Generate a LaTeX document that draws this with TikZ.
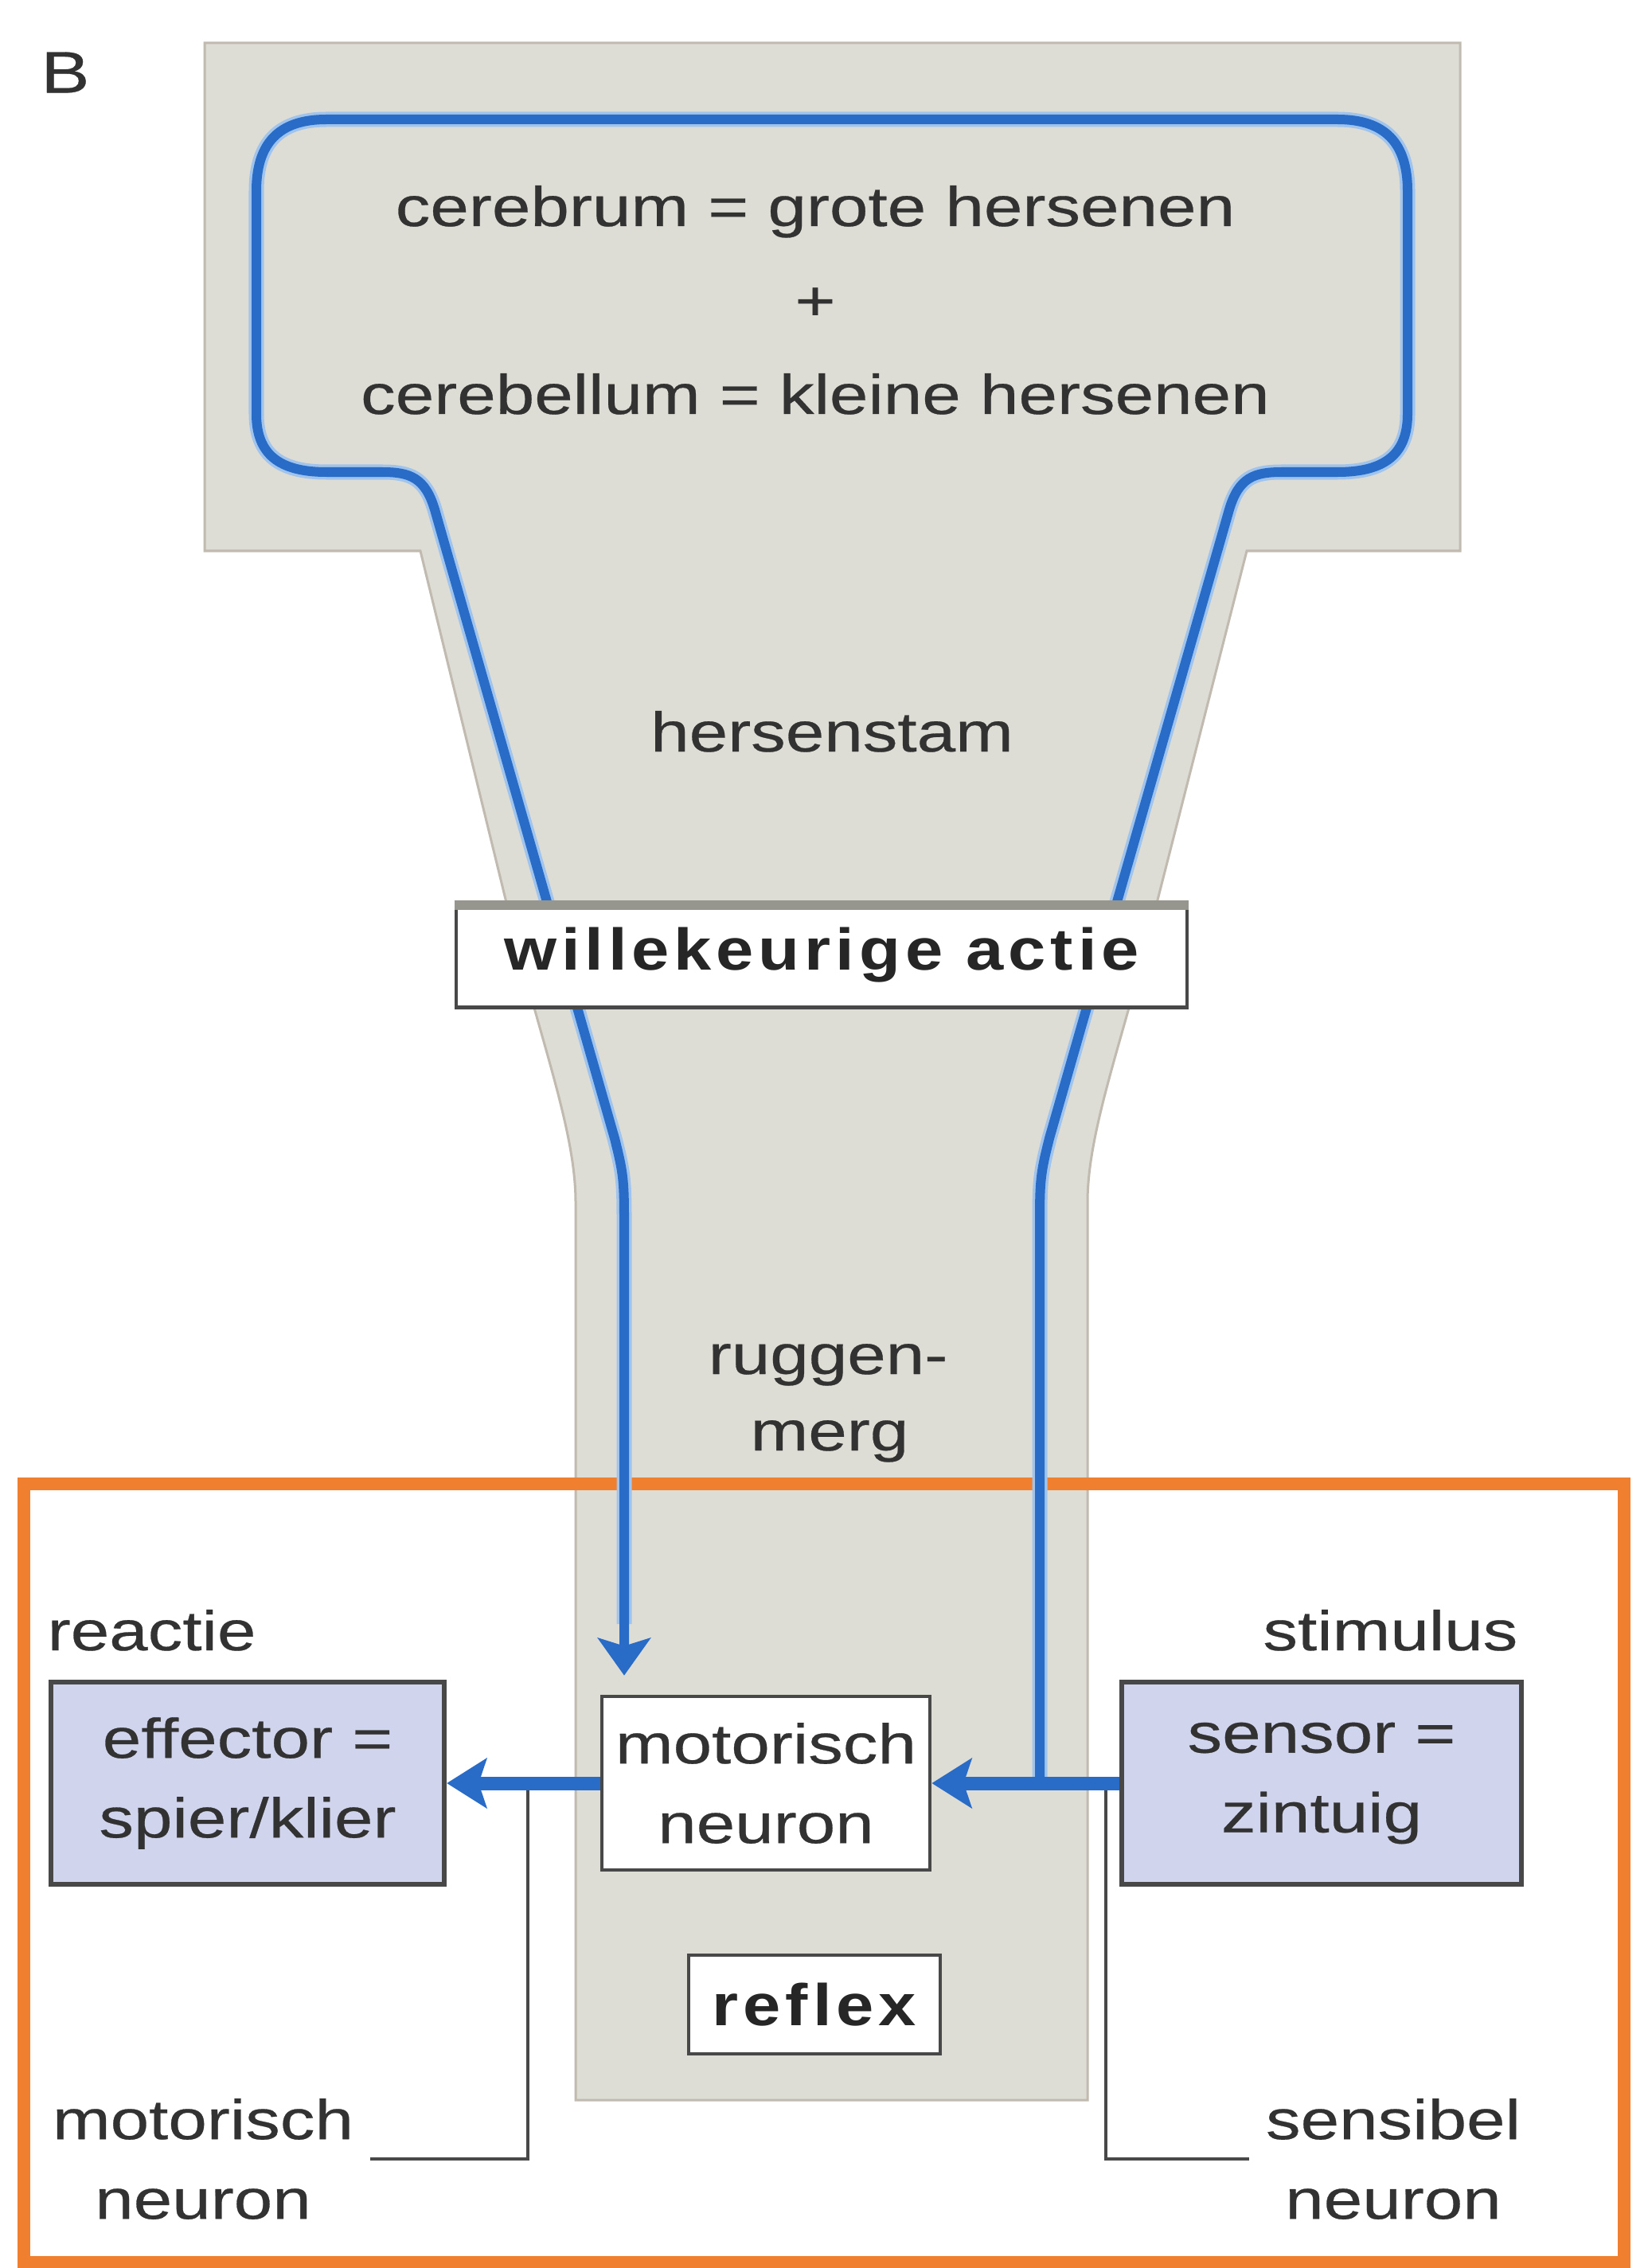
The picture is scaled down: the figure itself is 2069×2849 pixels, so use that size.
\documentclass[tikz,border=0pt]{standalone}
\usepackage{fontspec}
\setmainfont{Liberation Sans}[FakeStretch=1.24,FakeBold=0.4]
\newfontfamily\boldsp{Liberation Sans Bold}[FakeStretch=1.15,LetterSpace=8]
\usetikzlibrary{arrows.meta}
\definecolor{brgray}{RGB}{222,221,213}
\definecolor{brline}{RGB}{192,186,176}
\definecolor{nblue}{RGB}{40,108,200}
\definecolor{halo}{RGB}{160,196,236}
\definecolor{oranje}{RGB}{240,128,48}
\definecolor{lav}{RGB}{208,212,236}
\definecolor{txt}{RGB}{50,50,50}
\definecolor{bord}{RGB}{72,72,72}
\definecolor{bandg}{RGB}{150,150,142}
\tikzset{
 lbl/.style={font=\fontsize{20}{28.45}\selectfont, text=txt, inner sep=0pt},
 bld/.style={font=\fontsize{21}{28}\selectfont\boldsp, text=black!85},
 bluel/.style={draw=nblue, line width=0.12cm, line join=round},
 haloline/.style={draw=halo, line width=0.19cm, line join=round},
 harrow/.style={draw=nblue, line width=0.17cm, -{Stealth[length=0.5cm,width=0.62cm,inset=0.1cm]}},
 lavbox/.style={lbl, draw=bord, fill=lav, line width=0.06cm, align=center},
 whitebox/.style={lbl, draw=bord, fill=white, line width=0.045cm, align=center},
 callout/.style={draw=bord, line width=0.04cm},
}
\begin{document}
\begin{tikzpicture}[x=0.01cm,y=-0.01cm]
\useasboundingbox (0,0) rectangle (2069,2849);
\fill[white] (0,0) rectangle (2069,2849);
% brain + stem shape
\path[fill=brgray, draw=brline, line width=0.03cm]
  (257,54) -- (1834,54) -- (1834,692) -- (1566,692) -- (1449,1150)
  .. controls (1411,1305) and (1366,1420) .. (1366,1510) -- (1366,2638)
  -- (723,2638) -- (723,1510) .. controls (723,1420) and (678,1305) .. (640,1150)
  -- (528,692) -- (257,692) -- cycle;
% orange frame
\draw[oranje, line width=0.16cm] (30,1864) rectangle (2040,2842);
% boxes
\node[whitebox, minimum width=4.12cm, minimum height=2.18cm] (mn) at (962,2240) {motorisch\\neuron};
\node[lavbox, minimum width=4.94cm, minimum height=2.54cm] (ef) at (311,2240) {effector =\\spier/klier};
\node[lavbox, minimum width=5.02cm, minimum height=2.54cm] (sn) at (1660,2240) {sensor =\\zintuig};
\node[whitebox, bld, minimum width=3.16cm, minimum height=1.24cm] (rf) at (1023,2518) {reflex};
\coordinate (lx) at (784,0);
% blue loop
\path[haloline] (1306,2242) -- (1306,1530) .. controls (1306,1480) and (1308,1470) .. (1318,1430)
  -- (1544,640) .. controls (1556,600) and (1575,593) .. (1610,593) -- (1680,593)
  .. controls (1740,593) and (1768,570) .. (1768,520) -- (1768,240)
  .. controls (1768,180) and (1740,150) .. (1680,150) -- (410,150)
  .. controls (350,150) and (322,180) .. (322,240) -- (322,520)
  .. controls (322,570) and (350,593) .. (410,593) -- (480,593)
  .. controls (515,593) and (534,600) .. (546,640) -- (772,1430)
  .. controls (782,1470) and (784,1480) .. (784,1530) -- (784,2040);
\draw[bluel, -{Stealth[length=0.47cm,width=0.66cm,inset=0.1cm]}, shorten >=0.24cm]
  (1306,2242) -- (1306,1530) .. controls (1306,1480) and (1308,1470) .. (1318,1430)
  -- (1544,640) .. controls (1556,600) and (1575,593) .. (1610,593) -- (1680,593)
  .. controls (1740,593) and (1768,570) .. (1768,520) -- (1768,240)
  .. controls (1768,180) and (1740,150) .. (1680,150) -- (410,150)
  .. controls (350,150) and (322,180) .. (322,240) -- (322,520)
  .. controls (322,570) and (350,593) .. (410,593) -- (480,593)
  .. controls (515,593) and (534,600) .. (546,640) -- (772,1430)
  .. controls (782,1470) and (784,1480) .. (784,1530) -- (lx |- mn.north);
% willekeurige actie box
\node[whitebox, bld, minimum width=9.17cm, minimum height=1.31cm] (wa) at (1032,1200) {willekeurige actie};
\draw[bandg, line width=0.12cm] ([yshift=-0.05cm]wa.north west) -- ([yshift=-0.05cm]wa.north east);
% labels
\node[lbl, align=center] (ml) at (255,2712) {motorisch\\neuron};
\node[lbl, align=center] (sl) at (1750,2712) {sensibel\\neuron};
\coordinate (cl) at (663,2242);
\coordinate (cr) at (1389,2242);
\draw[callout] (cl) |- ([xshift=0.2cm]ml.east);
\draw[callout] (cr) |- ([xshift=-0.2cm]sl.west);
% horizontal arrows
\draw[harrow] (sn.west) -- (mn.east);
\draw[harrow] (mn.west) -- (ef.east);
% texts
\node[lbl, font=\fontsize{21}{28}\selectfont] (B) at (82,91) {B};
\node[lbl, anchor=base] (t1) at (1024,284) {cerebrum = grote hersenen};
\node[lbl, anchor=base] (t2) at (1024,402) {+};
\node[lbl, anchor=base] (t3) at (1024,520) {cerebellum = kleine hersenen};
\node[lbl, anchor=base] (hs) at (1045,944) {hersenstam};
\node[lbl, anchor=base] (rg1) at (1040,1726) {ruggen-};
\node[lbl, anchor=base] (rg2) at (1042,1822) {merg};
\node[lbl, anchor=base west] (re) at (59,2073) {reactie};
\node[lbl, anchor=base east] (st) at (1907,2073) {stimulus};
\end{tikzpicture}
\end{document}
